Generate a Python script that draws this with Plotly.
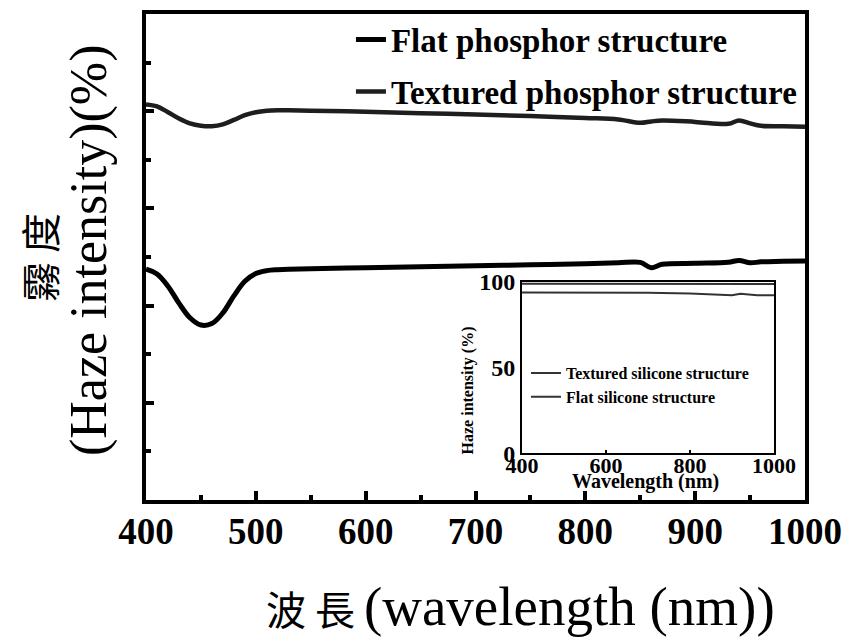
import plotly.graph_objects as go

# ---------------- data ----------------
wavelength = [400, 410, 420, 430, 440, 450, 460, 470, 480, 490, 500, 510, 520, 530,
              550, 600, 650, 700, 750, 800, 830, 850, 860, 870, 900, 930, 940, 950,
              960, 980, 1000]
flat_phosphor = [47.5, 46.5, 44.0, 40.5, 37.5, 36.0, 36.3, 38.5, 42.0, 45.0, 46.6, 47.2,
                 47.4, 47.5, 47.6, 47.8, 48.0, 48.2, 48.4, 48.6, 48.8, 48.9, 47.8, 48.5,
                 48.7, 48.9, 49.3, 48.8, 49.0, 49.1, 49.2]
textured_phosphor = [81.4, 81.0, 79.8, 78.5, 77.5, 77.0, 76.9, 77.3, 78.2, 79.2, 79.8,
                     80.1, 80.2, 80.2, 80.1, 79.9, 79.6, 79.3, 79.0, 78.6, 78.3, 77.6,
                     77.9, 78.1, 77.8, 77.4, 78.1, 77.5, 77.0, 76.9, 76.8]

inset_wavelength = [400, 500, 600, 700, 800, 850, 900, 920, 940, 960, 1000]
textured_silicone = [98.9, 98.9, 98.9, 98.8, 98.8, 98.8, 98.7, 98.7, 98.7, 98.7, 98.7]
flat_silicone = [93.8, 93.8, 93.7, 93.6, 93.2, 92.8, 92.2, 93.0, 92.5, 92.2, 92.2]

main_xticks = [400, 500, 600, 700, 800, 900, 1000]
inset_xticks = [400, 600, 800, 1000]
inset_yticks = [0, 50, 100]

SERIF = "Liberation Serif"
CJK = "Noto Sans CJK TC"

fig = go.Figure()
fig.add_trace(go.Scatter(x=wavelength, y=flat_phosphor, mode="lines",
                         name="<b>Flat phosphor structure</b>",
                         line=dict(color="black", width=5, shape="spline"),
                         legend="legend", legendgroup="a"))
fig.add_trace(go.Scatter(x=wavelength, y=textured_phosphor, mode="lines",
                         name="<b>Textured phosphor structure</b>",
                         line=dict(color="#1e1e1e", width=4.5, shape="spline"),
                         legend="legend", legendgroup="b"))
fig.add_trace(go.Scatter(x=inset_wavelength, y=textured_silicone, mode="lines",
                         name="<b>Textured silicone structure</b>",
                         line=dict(color="#333333", width=2),
                         xaxis="x2", yaxis="y2", legend="legend2"))
fig.add_trace(go.Scatter(x=inset_wavelength, y=flat_silicone, mode="lines",
                         name="<b>Flat silicone structure</b>",
                         line=dict(color="#333333", width=2),
                         xaxis="x2", yaxis="y2", legend="legend2"))

# the page body adds an 8px offset, so the figure is 8px smaller on each side
fig.update_layout(
    width=843, height=631,
    margin=dict(l=138, r=46, t=4, b=139),
    paper_bgcolor="white", plot_bgcolor="white",
    font=dict(family=SERIF, color="black"),
    xaxis=dict(range=[400, 1000], tickvals=main_xticks,
               ticktext=[f"<b>{v}</b>" for v in main_xticks],
               tickfont=dict(size=37, family=SERIF), ticklabelstandoff=-4,
               ticks="inside", ticklen=9, tickwidth=4, tickcolor="black",
               minor=dict(dtick=50, ticks="inside", ticklen=5, tickwidth=4, tickcolor="black"),
               showline=True, linewidth=4, linecolor="black", mirror=True,
               showgrid=False, zeroline=False, automargin=False),
    yaxis=dict(range=[0, 100], dtick=20, showticklabels=False,
               ticks="inside", ticklen=8, tickwidth=4, tickcolor="black",
               minor=dict(dtick=10, ticks="inside", ticklen=5, tickwidth=4, tickcolor="black"),
               showline=True, linewidth=4, linecolor="black", mirror=True,
               showgrid=False, zeroline=False, automargin=False),
    xaxis2=dict(domain=[0.5706, 0.953], anchor="y2", range=[400, 1000],
                tickvals=inset_xticks, ticktext=[f"<b>{v}</b>" for v in inset_xticks],
                tickfont=dict(size=22, family=SERIF), ticklabelstandoff=-9,
                ticks="inside", ticklen=3, tickwidth=2, tickcolor="black",
                showline=True, linewidth=2, linecolor="black", mirror=True,
                showgrid=False, zeroline=False, automargin=False),
    yaxis2=dict(domain=[0.0963, 0.4488], anchor="x2", range=[0, 100],
                tickvals=inset_yticks, ticktext=[f"<b>{v}</b>" for v in inset_yticks],
                tickfont=dict(size=24, family=SERIF), ticklabelstandoff=0,
                ticks="", showline=True, linewidth=2, linecolor="black", mirror=True,
                showgrid=False, zeroline=False, automargin=False),
    legend=dict(x=0.311, y=1.005, xanchor="left", yanchor="top",
                font=dict(size=33, family=SERIF), bgcolor="rgba(0,0,0,0)",
                tracegroupgap=6, itemwidth=30),
    legend2=dict(x=0.5766, y=0.296, xanchor="left", yanchor="top",
                 font=dict(size=16, family=SERIF), bgcolor="rgba(0,0,0,0)",
                 itemwidth=30, tracegroupgap=0),
    showlegend=True,
)

# main axis titles
fig.add_annotation(text="(Haze intensity)(%)", textangle=-90,
                   xref="paper", yref="paper", x=(89 - 146) / 659, y=(500 - 250) / 488,
                   xanchor="center", yanchor="middle", showarrow=False,
                   font=dict(size=52, family=SERIF))
fig.add_annotation(text="霧 度", textangle=-90,
                   xref="paper", yref="paper", x=(39 - 146) / 659, y=(500 - 257) / 488,
                   xanchor="center", yanchor="middle", showarrow=False,
                   font=dict(size=40, family=CJK))
fig.add_annotation(text="<span style='font-family:Noto Sans CJK TC;font-size:40px'>波 長 </span>(wavelength (nm))",
                   xref="paper", yref="paper", x=(520 - 146) / 659, y=(500 - 607) / 488,
                   xanchor="center", yanchor="middle", showarrow=False,
                   font=dict(size=55, family=SERIF))
# inset axis titles
fig.add_annotation(text="<b>Wavelength (nm)</b>",
                   xref="paper", yref="paper", x=(645 - 146) / 659, y=(500 - 481) / 488,
                   xanchor="center", yanchor="middle", showarrow=False,
                   font=dict(size=20, family=SERIF))
fig.add_annotation(text="<b>Haze intensity (%)</b>", textangle=-90,
                   xref="paper", yref="paper", x=(468 - 146) / 659, y=(500 - 390) / 488,
                   xanchor="center", yanchor="middle", showarrow=False,
                   font=dict(size=16, family=SERIF))

fig.write_html("out.html")
